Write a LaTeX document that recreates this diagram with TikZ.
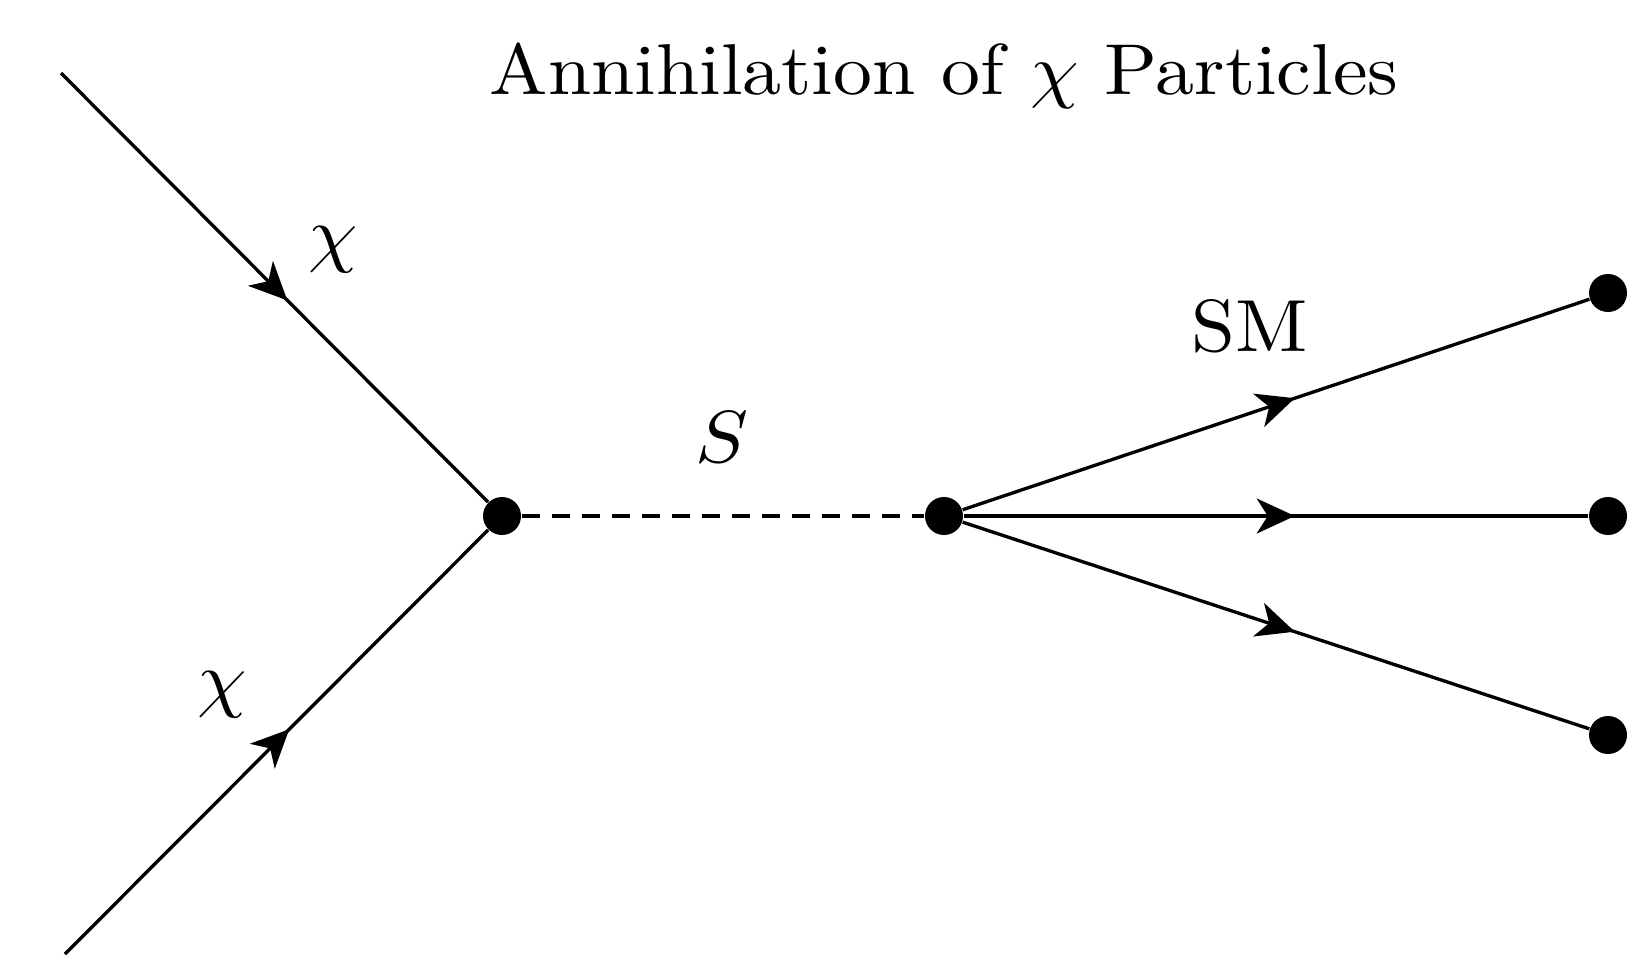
\documentclass[tikz,border=0pt]{standalone}
\usetikzlibrary{arrows.meta,decorations.markings}
\tikzset{
  fermion/.style={line width=0.95pt, postaction={decorate},
    decoration={markings, mark=at position 0.53 with {\arrow{Stealth[length=3.8mm, width=3.5mm, inset=1.1mm]}}}},
  scalar/.style={line width=0.95pt, dash pattern=on 1.8mm off 1.2mm},
  vertex/.style={circle, fill, inner sep=0pt, minimum size=3.8mm},
  lbl/.style={font=\normalsize, scale=2.1, xscale=1.07},
}
\begin{document}
\begin{tikzpicture}
  \useasboundingbox (0, 0) rectangle (16.4, 9.6);
  \coordinate (a1) at (0.61, 8.87);
  \coordinate (a2) at (0.65, 0.06);
  \node[vertex] (v1) at (5.02, 4.44) {};
  \node[vertex] (v2) at (9.44, 4.44) {};
  \node[vertex] (f1) at (16.08, 6.67) {};
  \node[vertex] (f2) at (16.08, 4.44) {};
  \node[vertex] (f3) at (16.08, 2.25) {};
  \draw[fermion] (a1) -- (v1);
  \draw[fermion] (a2) -- (v1);
  \draw[scalar] (v1) -- (v2);
  \draw[fermion] (v2) -- (f1);
  \draw[fermion] (v2) -- (f2);
  \draw[fermion] (v2) -- (f3);
  \node[lbl] (chi1) at (3.33, 7.10) {$\chi$};
  \node[lbl] (chi2) at (2.22, 2.65) {$\chi$};
  \node[lbl] (s) at (7.22, 5.23) {$S$};
  \node[lbl] (sm) at (12.50, 6.34) {SM};
  \node[font=\normalsize, scale=2.05, xscale=1.08] (title) at (9.44, 8.84) {Annihilation of $\chi$ Particles};
\end{tikzpicture}
\end{document}
